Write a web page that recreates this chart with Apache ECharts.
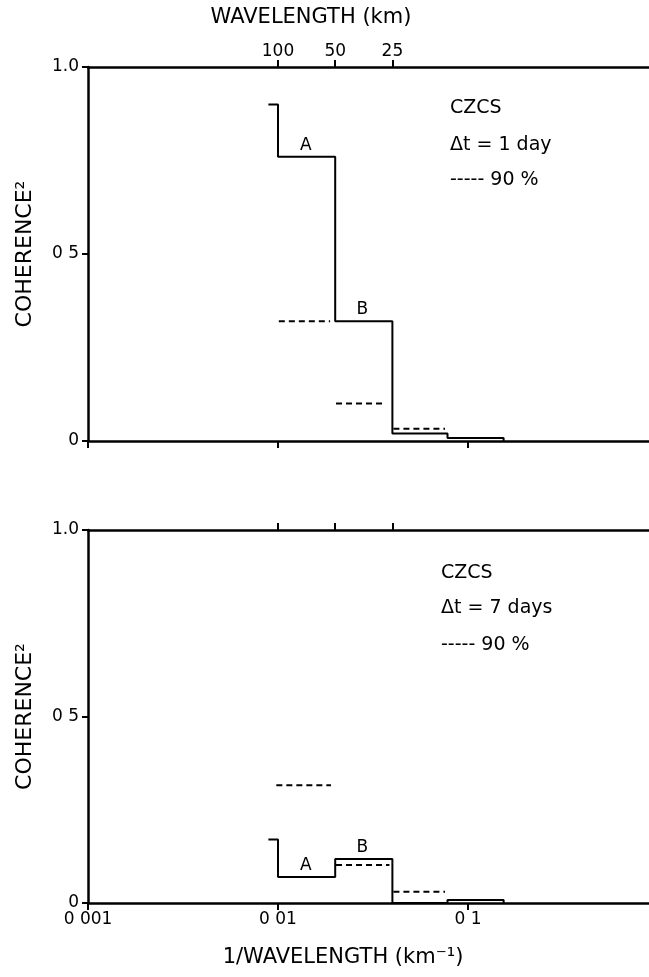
<!DOCTYPE html>
<html><head><meta charset="utf-8">
<script src="https://cdn.jsdelivr.net/npm/echarts@6/dist/echarts.min.js"></script>
<style>html,body{margin:0;padding:0;background:#fff}#c{width:649px;height:977px}</style>
</head><body><div id="c"></div>
<script>
// ---- data ----
const stepEdges = [0.0089, 0.01, 0.02, 0.04, 0.078, 0.154];   // 1/wavelength (km^-1)
const coh1day = [0.90, 0.76, 0.32, 0.02, 0.008, 0];
const coh7day = [0.17, 0.07, 0.118, 0, 0.008, 0];
const sig1dayStart = [0.0101, 0.0202, 0.0405];
const sig1dayEnd   = [0.0188, 0.0357, 0.0757];
const sig1day      = [0.32, 0.10, 0.033];
const sig7dayStart = [0.0098, 0.0202, 0.0405];
const sig7dayEnd   = [0.0190, 0.0386, 0.0757];
const sig7day      = [0.316, 0.102, 0.03];
const bandNames   = ['A', 'B'];
const bandCenters = [0.0140, 0.0278];
const band1day    = [0.76, 0.32];
const band7day    = [0.07, 0.118];
const wavelengthTicks = [100, 50, 25];          // km
const freqTicks       = [0.001, 0.01, 0.1, 1];
const freqTickLabels  = ['0 001', '0 01', '0 1', ''];
const yTicks      = [0, 0.5, 1];
const yTickLabels = ['0', '0 5', '1.0'];

// ---- build ----
const FONT = 'DejaVu Sans';
const black = '#000';
const stepData = ys => stepEdges.map((x, i) => [x, ys[i]]);
const dashData = (s, e, v) => {
  const out = [];
  s.forEach((x, i) => { out.push([x, v[i]], [e[i], v[i]], [e[i], '-']); });
  return out;
};
const wlLog = wavelengthTicks.map(w => Math.log10(1 / w));
const grids = [
  { left: 88, width: 570, top: 67, height: 374, outerBoundsMode: 'none', containLabel: false },
  { left: 88, width: 570, top: 530, height: 373, outerBoundsMode: 'none', containLabel: false }
];
const logAxis = (g, labels) => ({
  type: 'log', gridIndex: g, position: 'bottom', min: 0.001, max: 1, logBase: 10,
  axisLine: { onZero: false, lineStyle: { color: black, width: 2.5 } },
  axisTick: { show: true, inside: false, length: 7, lineStyle: { color: black, width: 2 } },
  axisLabel: {
    show: labels, color: black, fontFamily: FONT, fontSize: 17, margin: 8,
    formatter: v => { const i = freqTicks.findIndex(t => Math.abs(Math.log10(t) - Math.log10(v)) < 1e-6); return i >= 0 ? freqTickLabels[i] : ''; }
  },
  splitLine: { show: false }, minorTick: { show: false }
});
const topAxis = (g, labels) => ({
  type: 'value', gridIndex: g, position: 'top', min: -3, max: 0,
  axisLine: { onZero: false, lineStyle: { color: black, width: 2.5 } },
  axisTick: { show: true, inside: false, length: 7, customValues: wlLog, lineStyle: { color: black, width: 2 } },
  axisLabel: {
    show: labels, customValues: wlLog, color: black, fontFamily: FONT, fontSize: 17, margin: 7,
    formatter: v => String(Math.round(1 / Math.pow(10, v)))
  },
  splitLine: { show: false }
});
const yAxis = g => ({
  type: 'value', gridIndex: g, min: 0, max: 1, interval: 0.5,
  name: 'COHERENCE²', nameLocation: 'middle', nameGap: 52,
  nameTextStyle: { color: black, fontFamily: FONT, fontSize: 22 },
  axisLine: { show: true, onZero: false, lineStyle: { color: black, width: 2.5 } },
  axisTick: { show: true, inside: false, length: 6, lineStyle: { color: black, width: 2 } },
  axisLabel: {
    color: black, fontFamily: FONT, fontSize: 17, margin: 9,
    formatter: v => { const i = yTicks.findIndex(t => Math.abs(t - v) < 1e-9); return i >= 0 ? yTickLabels[i] : ''; }
  },
  splitLine: { show: false }
});
const stepSeries = (xi, yi, ys) => ({
  type: 'line', xAxisIndex: xi, yAxisIndex: yi, step: 'end', data: stepData(ys),
  symbol: 'none', lineStyle: { color: black, width: 2 }, silent: true, z: 5
});
const dashSeries = (xi, yi, s, e, v) => ({
  type: 'line', xAxisIndex: xi, yAxisIndex: yi, data: dashData(s, e, v), connectNulls: false,
  symbol: 'none', lineStyle: { color: black, width: 2, type: [6, 4] }, silent: true, z: 4
});
const labelSeries = (xi, yi, ys) => ({
  type: 'scatter', xAxisIndex: xi, yAxisIndex: yi, symbolSize: 0, silent: true,
  itemStyle: { color: black, opacity: 1 },
  data: bandCenters.map((x, i) => ({ value: [x, ys[i]], name: bandNames[i] })),
  label: { show: true, position: 'top', distance: 3, formatter: p => p.name, color: black, opacity: 1, fontFamily: FONT, fontSize: 17 }
});
const textEl = (x, y, t, size, align) => ({
  type: 'text', x: x, y: y,
  style: { text: t, fill: black, font: size + 'px "' + FONT + '"', align: align || 'left', verticalAlign: 'middle' }
});
const legendText = (x, ys, lines) => lines.map((t, i) => textEl(x, ys[i], t, 19));

const chart = echarts.init(document.getElementById('c'), null, { renderer: 'canvas' });
chart.setOption({
  backgroundColor: '#fff',
  animation: false,
  grid: grids,
  xAxis: [logAxis(0, false), topAxis(0, true), logAxis(1, true), topAxis(1, false)],
  yAxis: [yAxis(0), yAxis(1)],
  series: [
    stepSeries(0, 0, coh1day), dashSeries(0, 0, sig1dayStart, sig1dayEnd, sig1day), labelSeries(0, 0, band1day),
    stepSeries(2, 1, coh7day), dashSeries(2, 1, sig7dayStart, sig7dayEnd, sig7day), labelSeries(2, 1, band7day)
  ],
  graphic: [
    textEl(311, 18, 'WAVELENGTH (km)', 21, 'center'),
    textEl(343, 958, '1/WAVELENGTH (km⁻¹)', 21, 'center'),
    ...legendText(450, [108, 145, 180], ['CZCS', 'Δt = 1 day', '----- 90 %']),
    ...legendText(441, [573, 608, 645], ['CZCS', 'Δt = 7 days', '----- 90 %'])
  ]
});
</script></body></html>
